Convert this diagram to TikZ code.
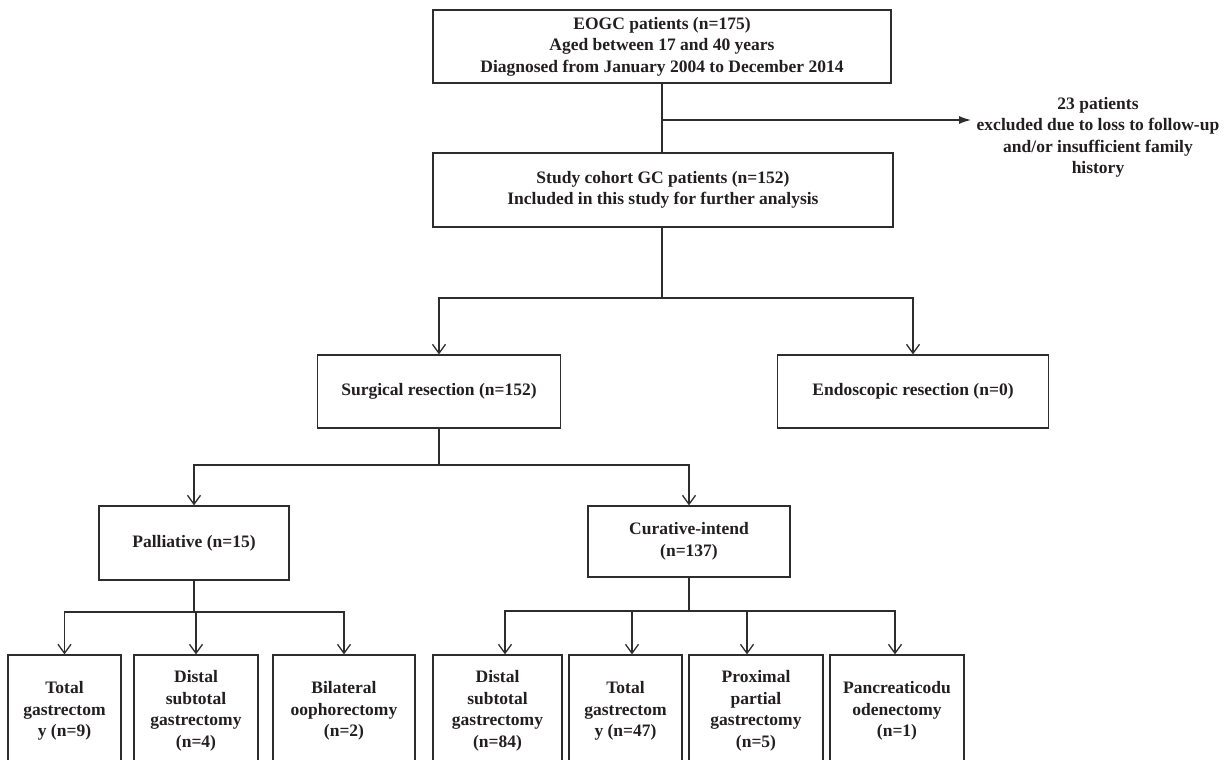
\documentclass[tikz,border=0pt]{standalone}
\usepackage{fontspec}
\setmainfont{Liberation Serif}
\usetikzlibrary{arrows.meta}
\definecolor{ink}{RGB}{35,31,32}
\definecolor{linec}{RGB}{45,45,45}
\begin{document}
\begin{tikzpicture}[x=1pt,y=-1pt,
  box/.style={draw=linec, line width=1.2pt, inner sep=0pt, align=center,
    font=\fontsize{17.5}{21.5}\selectfont\bfseries, text=ink},
  plain/.style={inner sep=5.5pt, align=center,
    font=\fontsize{17.5}{21.5}\selectfont\bfseries, text=ink},
  conn/.style={draw=linec, line width=1.2pt},
  vArrow/.style={conn, -{Straight Barb[length=9pt,width=13pt,line width=1.3pt]}},
  fArrow/.style={conn, -{Latex[length=12pt,width=8pt]}}]
\useasboundingbox (0,0) rectangle (1232,760);
\clip (0,0) rectangle (1232,760);

% main column
\node[box, minimum width=458pt, minimum height=73pt] (top) at (662,46.5)
  {EOGC patients (n=175)\\Aged between 17 and 40 years\\Diagnosed from January 2004 to December 2014};
\node[box, minimum width=460pt, minimum height=74pt] (study) at (663,190)
  {Study cohort GC patients (n=152)\\Included in this study for further analysis};
\node[plain] (excl) at (1098,137.5)
  {23 patients\\excluded due to loss to follow-up\\and/or insufficient family\\history};

\node[box, minimum width=243pt, minimum height=73pt] (surg) at (439,391.5)
  {Surgical resection (n=152)};
\node[box, minimum width=271pt, minimum height=73pt] (endo) at (913,391.5)
  {Endoscopic resection (n=0)};

\node[box, minimum width=190pt, minimum height=74pt] (pall) at (194,543)
  {Palliative (n=15)};
\node[box, minimum width=202pt, minimum height=71pt] (cur) at (689,541.5)
  {Curative-intend\\(n=137)};

% bottom row
\node[box, minimum width=113pt, minimum height=112pt] (b1) at (64.5,711)
  {Total\\gastrectom\\y (n=9)};
\node[box, minimum width=124pt, minimum height=112pt] (b2) at (196,711)
  {Distal\\subtotal\\gastrectomy\\(n=4)};
\node[box, minimum width=142pt, minimum height=112pt] (b3) at (344,711)
  {Bilateral\\oophorectomy\\(n=2)};
\node[box, minimum width=129pt, minimum height=112pt] (b4) at (497.5,711)
  {Distal\\subtotal\\gastrectomy\\(n=84)};
\node[box, minimum width=113pt, minimum height=112pt] (b5) at (625.5,711)
  {Total\\gastrectom\\y (n=47)};
\node[box, minimum width=134pt, minimum height=112pt] (b6) at (756,711)
  {Proximal\\partial\\gastrectomy\\(n=5)};
\node[box, minimum width=134pt, minimum height=112pt] (b7) at (897,711)
  {Pancreaticodu\\odenectomy\\(n=1)};

% connectors
\draw[conn] (top.south) -- (top.south |- study.north);
\coordinate (s1) at (662,120);
\draw[fArrow] (s1) -- (s1 -| excl.west);

\coordinate (j1) at (662,298);
\draw[conn] (j1 |- study.south) -- (j1);
\draw[vArrow] (j1) -| (surg.north);
\draw[vArrow] (j1) -| (endo.north);

\coordinate (j2) at (439,465);
\draw[conn] (surg.south) -- (j2);
\draw[vArrow] (j2) -| (pall.north);
\draw[vArrow] (j2) -| (cur.north);

\coordinate (j3) at (194,612);
\draw[conn] (pall.south) -- (j3);
\draw[vArrow] (j3) -| (b1.north);
\draw[vArrow] (j3) -| (b2.north);
\draw[vArrow] (j3) -| (b3.north);

\coordinate (j4) at (689,611);
\draw[conn] (cur.south) -- (j4);
\draw[vArrow] (j4) -| ([xshift=7.5pt]b4.north);
\draw[vArrow] (j4) -| ([xshift=6.5pt]b5.north);
\draw[vArrow] (j4) -| ([xshift=-9pt]b6.north);
\draw[vArrow] (j4) -| ([xshift=-2pt]b7.north);
\end{tikzpicture}
\end{document}
